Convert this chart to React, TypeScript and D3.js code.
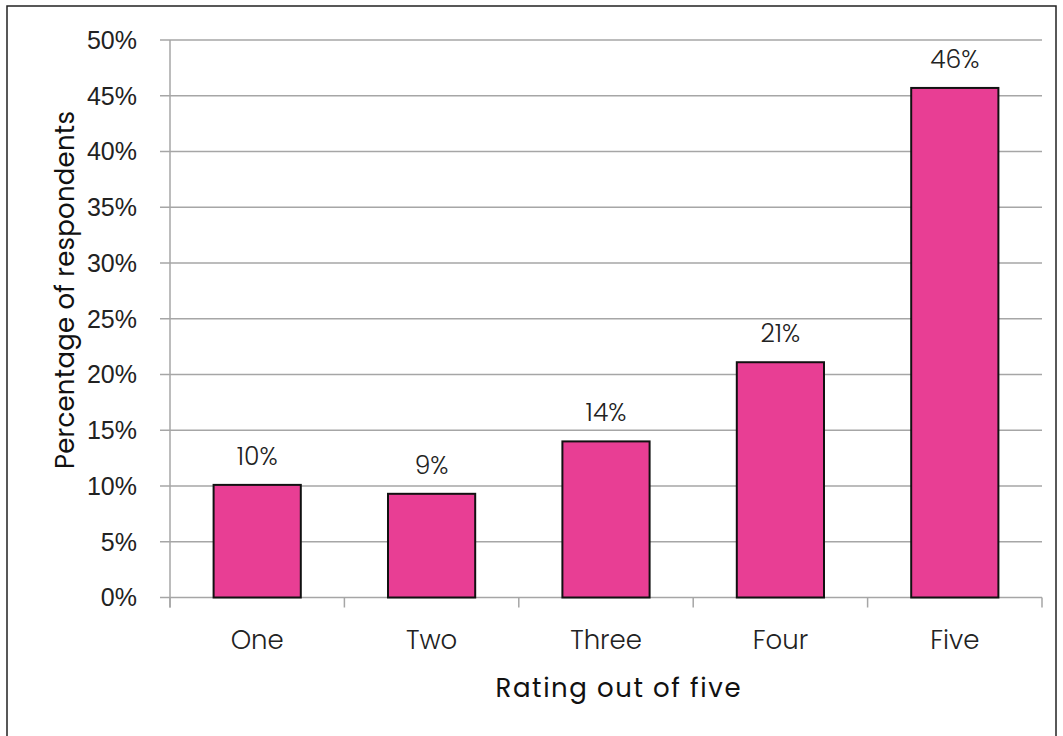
import React from "react";
import * as d3 from "d3";

const categories = ["One", "Two", "Three", "Four", "Five"];
const values = [10.1, 9.3, 14.0, 21.1, 45.7];
const labels = ["10%", "9%", "14%", "21%", "46%"];
const yTicks = [0, 5, 10, 15, 20, 25, 30, 35, 40, 45, 50];

const W = 1063;
const H = 736;
const M = { left: 170, right: 1042, top: 40, bottom: 597.5 };
const FONT = "Poppins, 'Open Sans', 'Noto Sans', sans-serif";

export default function App() {
  const x = d3.scaleBand<string>().domain(categories).range([M.left, M.right]).paddingInner(0.5).paddingOuter(0.25);
  const xb = d3.scaleBand<string>().domain(categories).range([M.left, M.right]);
  const y = d3.scaleLinear().domain([0, 50]).range([M.bottom, M.top]);
  const tickXs = [...categories.map((c) => xb(c)!), M.right];
  return (
    <svg width={W} height={H} style={{ position: "absolute", left: 0, top: 0, background: "#fff" }}>
      <rect x={7} y={6} width={1049} height={740} fill="#fff" stroke="#222" strokeWidth={1.5} />
      {yTicks.map((t) => (
        <g key={t}>
          <line x1={M.left - 10} x2={M.right} y1={y(t)} y2={y(t)} stroke="#a6a6a6" strokeWidth={1.5} />
          <text x={137} y={y(t)} dy="0.35em" textAnchor="end" fontFamily="'Liberation Sans', Arial, sans-serif" fontSize={25} fill="#222">
            {t}%
          </text>
        </g>
      ))}
      <line x1={M.left} x2={M.left} y1={M.top} y2={M.bottom + 10} stroke="#a6a6a6" strokeWidth={1.5} />
      {tickXs.map((tx, i) => (
        <line key={i} x1={tx} x2={tx} y1={M.bottom} y2={M.bottom + 10} stroke="#a6a6a6" strokeWidth={1.5} />
      ))}
      {categories.map((c, i) => (
        <g key={c}>
          <rect x={x(c)!} y={y(values[i])} width={x.bandwidth()} height={M.bottom - y(values[i])} fill="#E83E94" stroke="#111" strokeWidth={2} />
          <text x={x(c)! + x.bandwidth() / 2} y={y(values[i]) - 20} textAnchor="middle" fontFamily={FONT} fontWeight={300} fontSize={25} fill="#222">
            {labels[i]}
          </text>
          <text x={xb(c)! + xb.bandwidth() / 2} y={649} textAnchor="middle" fontFamily={FONT} fontWeight={300} fontSize={26} fill="#222">
            {c}
          </text>
        </g>
      ))}
      <text x={618} y={697} textAnchor="middle" fontFamily={FONT} fontSize={26} fill="#111" textLength={245} lengthAdjust="spacing">
        Rating out of five
      </text>
      <text transform="translate(74,290) rotate(-90)" textAnchor="middle" fontFamily={FONT} fontSize={26} fill="#111" textLength={358} lengthAdjust="spacing">
        Percentage of respondents
      </text>
    </svg>
  );
}
